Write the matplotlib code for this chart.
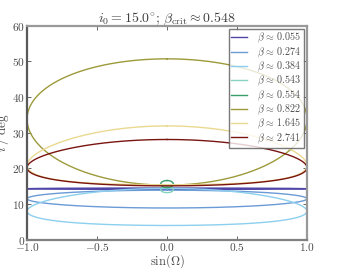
import numpy as np
import matplotlib
matplotlib.use("Agg")
import matplotlib.pyplot as plt
from matplotlib.ticker import FuncFormatter, FixedLocator

plt.rcParams['mathtext.fontset'] = 'cm'
plt.rcParams['font.family'] = ['DejaVu Serif']

# ---- data ----
betas = [0.055, 0.274, 0.384, 0.543, 0.554, 0.822, 1.645, 2.741]
colors = ["#5046a8", "#6a9bd6", "#8ccfee", "#86d3c0", "#3a9e6a",
          "#9c9a3a", "#ead990", "#7a1410"]
# circulating curves: inclination (deg) at sin(Omega)=0 upper/lower branch, and at sin(Omega)=+-1
i_upper = [14.5, 13.9, 14.4, None, None, 50.7, 31.9, 28.1]
i_lower = [14.1, 8.9, 4.0, None, None, 15.3, 15.4, 15.1]
i_edge = [14.3, 11.5, 8.0, None, None, 33.8, 20.8, 20.2]
# librating loops: half-width in sin(Omega), inclination min/max
loop_halfwidth = [None, None, None, 0.045, 0.045, None, None, None]
loop_imin = [None, None, None, 13.2, 14.6, None, None, None]
loop_imax = [None, None, None, 14.8, 16.6, None, None, None]

xticks = [-1.0, -0.5, 0.0, 0.5, 1.0]
yticks = [0, 10, 20, 30, 40, 50, 60]

fig = plt.figure(figsize=(3.43, 2.70), dpi=100)
ax = fig.add_axes([0.079, 0.112, 0.816, 0.793])

om = np.linspace(0, 2 * np.pi, 1441)
for k, b in enumerate(betas):
    lab = r"$\beta \,\approx\, %.3f$" % b
    if i_upper[k] is not None:
        up, lo, ed = i_upper[k], i_lower[k], i_edge[k]
        a1 = (up - lo) / 2
        c0 = (up + lo) / 4 + ed / 2
        c2 = (up + lo) / 4 - ed / 2
        x = np.sin(om)
        y = c0 + a1 * np.cos(om) + c2 * np.cos(2 * om)
    else:
        hw = loop_halfwidth[k]
        mid = (loop_imin[k] + loop_imax[k]) / 2
        amp = (loop_imax[k] - loop_imin[k]) / 2
        x = hw * np.sin(om)
        y = mid + amp * np.cos(om)
    ax.plot(x, y, color=colors[k], lw=1.0, label=lab)

ax.set_xlim(-1, 1)
ax.set_ylim(0, 60)
ax.xaxis.set_major_locator(FixedLocator(xticks))
ax.yaxis.set_major_locator(FixedLocator(yticks))
ax.xaxis.set_major_formatter(FuncFormatter(lambda v, p: r"$%.1f$" % v))
ax.yaxis.set_major_formatter(FuncFormatter(lambda v, p: r"$%d$" % v))
ax.tick_params(direction='in', top=True, right=True, length=3, width=0.6,
               labelsize=8.2, colors='0.3', pad=1.2)
for s in ax.spines.values():
    s.set_linewidth(1.6)
ax.spines['left'].set_color('0.35')
ax.spines['bottom'].set_color('0.5')
ax.spines['top'].set_color('0.6')
ax.spines['right'].set_color('0.6')

ax.set_title(r"$i_0 = 15.0^{\circ};\,\beta_{\rm crit} \approx 0.548$",
             fontsize=10, color='0.25', pad=3)
ax.set_xlabel(r"$\sin(\Omega)$", fontsize=9, color='0.3', labelpad=-0.8)
ax.set_ylabel(r"$i\;/\;\mathrm{deg}$", fontsize=9.5, color='0.3', labelpad=1)

leg = ax.legend(loc='upper right', fontsize=7.2, frameon=True, fancybox=False,
                borderaxespad=0.3, handlelength=1.6, labelspacing=0.0,
                borderpad=0.25, handletextpad=1.0)
leg.get_frame().set_edgecolor('0.35')
leg.get_frame().set_linewidth(1.0)
for t in leg.get_texts():
    t.set_color('0.3')

fig.savefig("out.png", dpi=100)
